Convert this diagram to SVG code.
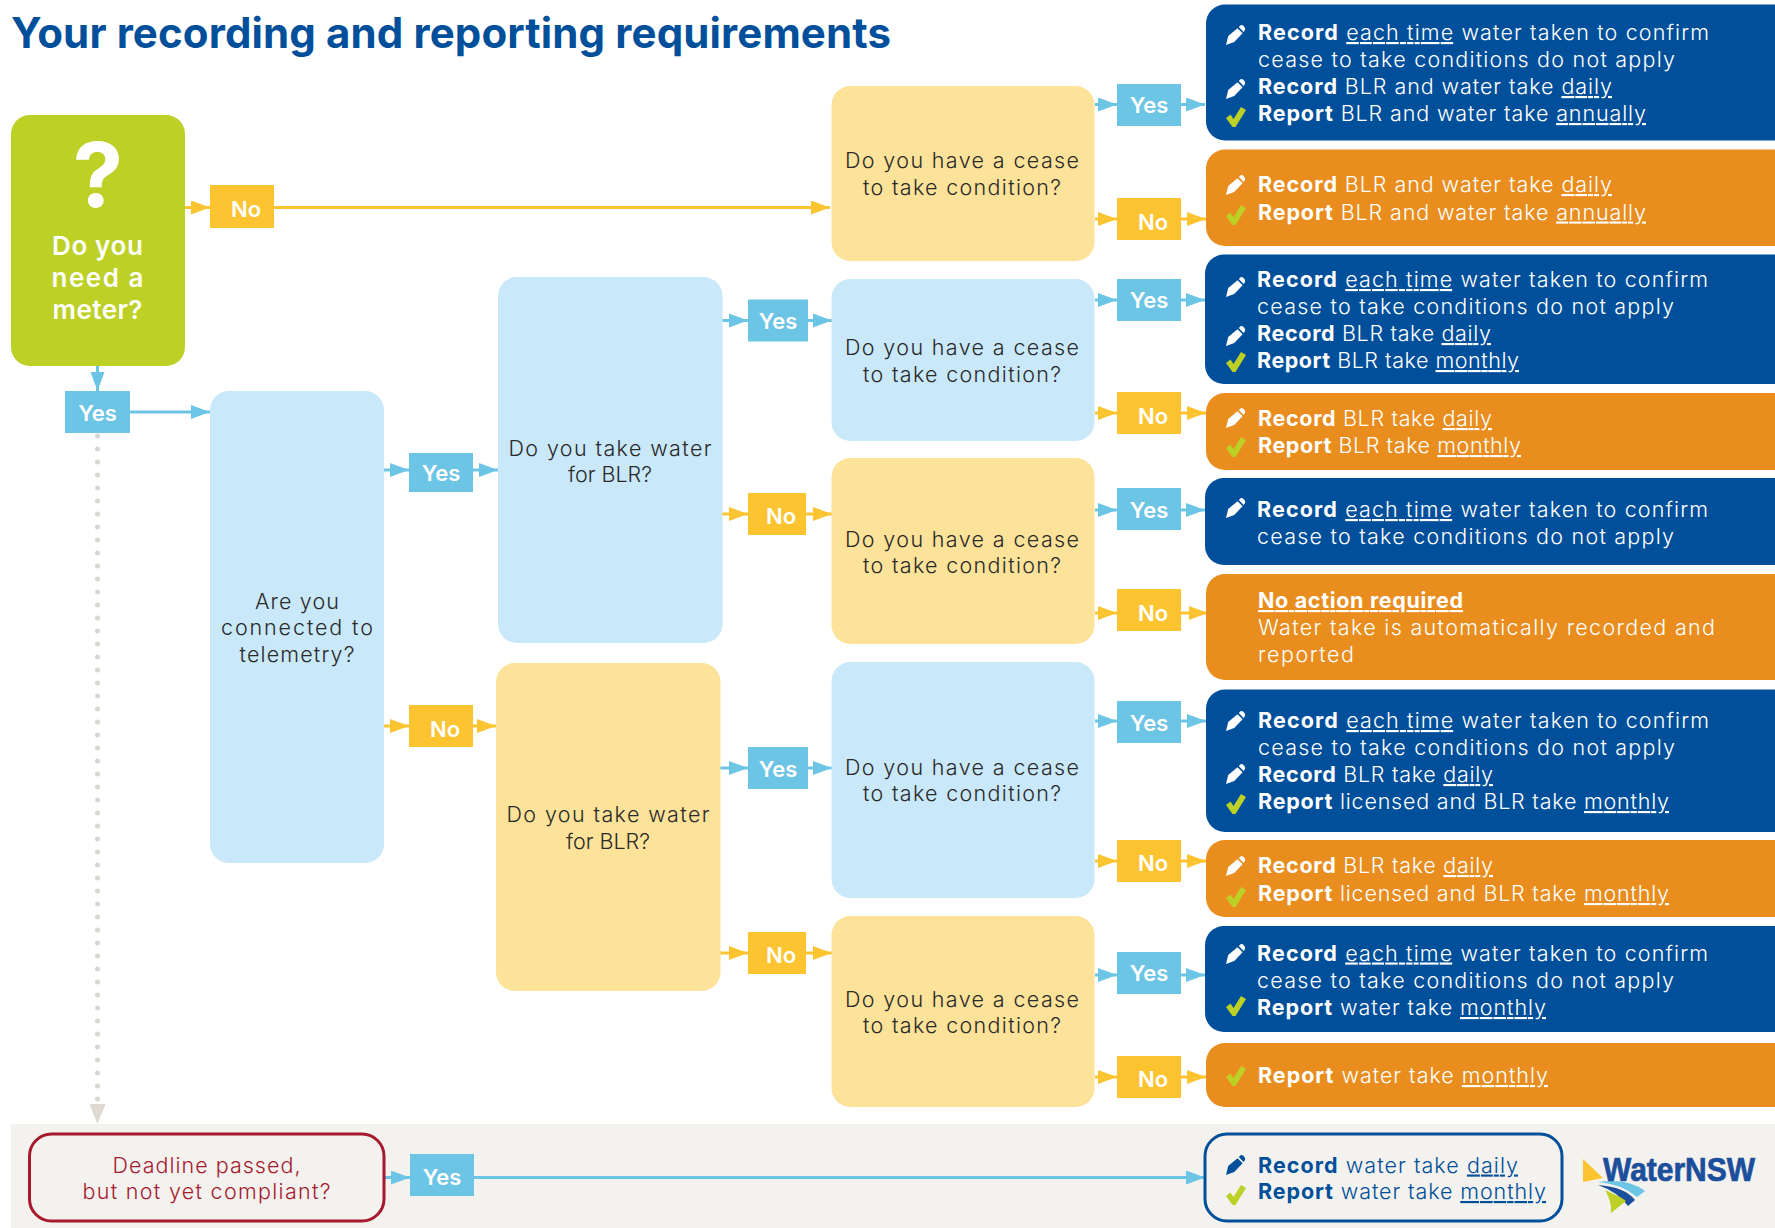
<svg xmlns="http://www.w3.org/2000/svg" width="1775" height="1228" viewBox="0 0 1775 1228">
<style>
text{font-family:"Inter","Lato","Liberation Sans",sans-serif}
.q{font-size:21.5px;fill:#2a2a2a;text-anchor:middle;font-weight:300}
.l{font-size:22px;fill:#fff;font-weight:600;text-anchor:middle}
.r{font-size:21.5px;fill:#fff;font-weight:300}
.b{font-weight:700}
.u{text-decoration:underline}
.by{fill:#6cc5e4}.yy{fill:#fbc430}
.conn{fill:none;stroke-width:3}
.cb{stroke:#6cc5e4}.cy{stroke:#fbc430}
.tick{fill:#bdd025}.pw{fill:#fff}.pb{fill:#004f9b}
</style>
<defs>
<marker id="ab" markerUnits="userSpaceOnUse" markerWidth="20" markerHeight="14" refX="19" refY="7" orient="auto"><path d="M0 0L19 7L0 14Z" fill="#6cc5e4"/></marker>
<marker id="ay" markerUnits="userSpaceOnUse" markerWidth="20" markerHeight="14" refX="19" refY="7" orient="auto"><path d="M0 0L19 7L0 14Z" fill="#fbc430"/></marker>
<marker id="ag" markerUnits="userSpaceOnUse" markerWidth="21" markerHeight="16" refX="20" refY="8" orient="auto"><path d="M0 0L20 8L0 16Z" fill="#dedad2"/></marker>
<symbol id="pen" viewBox="0 0 20 20" width="20" height="20" overflow="visible"><path d="M0 20L2.200 11L11.500 3.200L16.600 8.200L8.200 17ZM12.800 2L14.600 .3Q16.200-.4 18 1.500Q19.800 3.400 19 5L17.600 7Z"/></symbol>
<symbol id="tik" viewBox="0 0 20 20" width="20" height="20"><path d="M0 11L4.500 7.500L7.500 12L15 0L20 3L9.500 20L6.500 20Z"/></symbol>
</defs>
<rect width="1775" height="1228" fill="#fff"/>
<rect id="band" x="11" y="1124" width="1764" height="104" fill="#f4f2ee"/>
<text id="title" x="11" y="48" font-size="42" font-weight="700" fill="#004f9b" textLength="880" lengthAdjust="spacing">Your recording and reporting requirements</text>

<g id="connectors">
<path class="conn cy" marker-end="url(#ay)" d="M185 207.500H210"/>
<path class="conn cy" marker-end="url(#ay)" d="M274 207.500H830"/>
<path class="conn cb" marker-end="url(#ab)" d="M97.500 366V391"/>
<path class="conn cb" marker-end="url(#ab)" d="M130 412H210"/>
<path fill="none" stroke="#d9d6d0" stroke-width="5" stroke-linecap="round" stroke-dasharray="0 13" d="M97.500 436V1100"/>
<path fill="none" stroke="none" marker-end="url(#ag)" d="M97.500 1100V1124"/>
<path class="conn cb" marker-end="url(#ab)" d="M384 470H409"/>
<path class="conn cb" marker-end="url(#ab)" d="M473 470H498"/>
<path class="conn cy" marker-end="url(#ay)" d="M384 726H409"/>
<path class="conn cy" marker-end="url(#ay)" d="M473 726H496"/>
<path class="conn cb" marker-end="url(#ab)" d="M722 320.500H748"/>
<path class="conn cb" marker-end="url(#ab)" d="M808 320.500H832"/>
<path class="conn cy" marker-end="url(#ay)" d="M722 514H748"/>
<path class="conn cy" marker-end="url(#ay)" d="M806 514H832"/>
<path class="conn cb" marker-end="url(#ab)" d="M720 768H748"/>
<path class="conn cb" marker-end="url(#ab)" d="M808 768H832"/>
<path class="conn cy" marker-end="url(#ay)" d="M720 953H748"/>
<path class="conn cy" marker-end="url(#ay)" d="M806 953H832"/>
<path class="conn cb" marker-end="url(#ab)" d="M1095 104.500H1117"/>
<path class="conn cb" marker-end="url(#ab)" d="M1181 104.500H1205"/>
<path class="conn cy" marker-end="url(#ay)" d="M1095 219H1117"/>
<path class="conn cy" marker-end="url(#ay)" d="M1181 219H1206"/>
<path class="conn cb" marker-end="url(#ab)" d="M1095 300H1117"/>
<path class="conn cb" marker-end="url(#ab)" d="M1181 300H1205"/>
<path class="conn cy" marker-end="url(#ay)" d="M1095 413H1117"/>
<path class="conn cy" marker-end="url(#ay)" d="M1181 413H1206"/>
<path class="conn cb" marker-end="url(#ab)" d="M1095 510H1117"/>
<path class="conn cb" marker-end="url(#ab)" d="M1181 510H1205"/>
<path class="conn cy" marker-end="url(#ay)" d="M1095 613H1117"/>
<path class="conn cy" marker-end="url(#ay)" d="M1181 613H1208"/>
<path class="conn cb" marker-end="url(#ab)" d="M1095 721H1117"/>
<path class="conn cb" marker-end="url(#ab)" d="M1181 721H1206"/>
<path class="conn cy" marker-end="url(#ay)" d="M1095 861H1117"/>
<path class="conn cy" marker-end="url(#ay)" d="M1181 861H1206"/>
<path class="conn cb" marker-end="url(#ab)" d="M1095 975H1117"/>
<path class="conn cb" marker-end="url(#ab)" d="M1181 975H1205"/>
<path class="conn cy" marker-end="url(#ay)" d="M1095 1077H1117"/>
<path class="conn cy" marker-end="url(#ay)" d="M1181 1077H1206"/>
<path class="conn cb" marker-end="url(#ab)" d="M385 1177.500H410"/>
<path class="conn cb" marker-end="url(#ab)" d="M474 1177.500H1205"/>
</g>

<g id="n-meter"><rect x="11" y="115" width="174" height="251" rx="19" fill="#bdd025"/>
<text x="98" y="207" font-size="90" font-weight="700" fill="#fff" text-anchor="middle">?</text>
<text class="l" x="97.500" y="255" style="font-size:26px" textLength="91">Do you</text>
<text class="l" x="97.500" y="287" style="font-size:26px" textLength="92">need a</text>
<text class="l" x="97.500" y="319" style="font-size:26px" textLength="90">meter?</text></g>

<g id="n-telemetry"><rect x="210" y="391" width="174" height="472" rx="19" fill="#c9e8fa"/>
<text class="q" x="297" y="608.500" textLength="84">Are you</text><text class="q" x="297" y="635" textLength="152">connected to</text><text class="q" x="297" y="662" textLength="115">telemetry?</text></g>

<g id="n-blr1"><rect x="498" y="277" width="224.500" height="366" rx="19" fill="#c9e8fa"/>
<text class="q" x="610" y="455.500" textLength="203">Do you take water</text><text class="q" x="610" y="482" textLength="84">for BLR?</text></g>
<g id="n-blr2"><rect x="496" y="663" width="224.500" height="328" rx="19" fill="#fde299"/>
<text class="q" x="608" y="822" textLength="203">Do you take water</text><text class="q" x="608" y="849" textLength="84">for BLR?</text></g>

<g id="n-cease1"><rect x="831.500" y="86" width="263" height="175" rx="19" fill="#fde299"/>
<text class="q" x="962" y="168" textLength="234">Do you have a cease</text><text class="q" x="962" y="194.500" textLength="198">to take condition?</text></g>
<g id="n-cease2"><rect x="831.500" y="279" width="263" height="162" rx="19" fill="#c9e8fa"/>
<text class="q" x="962" y="355" textLength="234">Do you have a cease</text><text class="q" x="962" y="381.500" textLength="198">to take condition?</text></g>
<g id="n-cease3"><rect x="831.500" y="458" width="263" height="186" rx="19" fill="#fde299"/>
<text class="q" x="962" y="546.500" textLength="234">Do you have a cease</text><text class="q" x="962" y="573" textLength="198">to take condition?</text></g>
<g id="n-cease4"><rect x="831.500" y="662" width="263" height="236" rx="19" fill="#c9e8fa"/>
<text class="q" x="962" y="775" textLength="234">Do you have a cease</text><text class="q" x="962" y="801" textLength="198">to take condition?</text></g>
<g id="n-cease5"><rect x="831.500" y="916" width="263" height="191" rx="19" fill="#fde299"/>
<text class="q" x="962" y="1007" textLength="234">Do you have a cease</text><text class="q" x="962" y="1033" textLength="198">to take condition?</text></g>

<g id="labels">
<g id="l-no0"><rect class="yy" x="210" y="185" width="64" height="43"/><text class="l" x="246" y="217">No</text></g>
<g id="l-yes0"><rect class="by" x="65" y="391" width="65" height="42"/><text class="l" x="97.500" y="421">Yes</text></g>
<g id="l-yes1"><rect class="by" x="409" y="453" width="64" height="39"/><text class="l" x="441" y="481">Yes</text></g>
<g id="l-no1"><rect class="yy" x="409" y="705" width="64" height="42"/><text class="l" x="445" y="737">No</text></g>
<g id="l-yes2"><rect class="by" x="748" y="299.500" width="60" height="42"/><text class="l" x="778" y="329">Yes</text></g>
<g id="l-no2"><rect class="yy" x="748" y="493" width="58" height="42"/><text class="l" x="781" y="524">No</text></g>
<g id="l-yes3"><rect class="by" x="748" y="747" width="60" height="42"/><text class="l" x="778" y="777">Yes</text></g>
<g id="l-no3"><rect class="yy" x="748" y="932" width="58" height="42"/><text class="l" x="781" y="963">No</text></g>
<g id="l-y4"><rect class="by" x="1117" y="84" width="64" height="42"/><text class="l" x="1149" y="113">Yes</text></g>
<g id="l-n4"><rect class="yy" x="1117" y="198" width="64" height="42"/><text class="l" x="1153" y="230">No</text></g>
<g id="l-y5"><rect class="by" x="1117" y="279" width="64" height="42"/><text class="l" x="1149" y="308">Yes</text></g>
<g id="l-n5"><rect class="yy" x="1117" y="392" width="64" height="42"/><text class="l" x="1153" y="424">No</text></g>
<g id="l-y6"><rect class="by" x="1117" y="488" width="64" height="42"/><text class="l" x="1149" y="518">Yes</text></g>
<g id="l-n6"><rect class="yy" x="1117" y="589" width="64" height="42"/><text class="l" x="1153" y="621">No</text></g>
<g id="l-y7"><rect class="by" x="1117" y="701" width="64" height="42"/><text class="l" x="1149" y="731">Yes</text></g>
<g id="l-n7"><rect class="yy" x="1117" y="840" width="64" height="42"/><text class="l" x="1153" y="871">No</text></g>
<g id="l-y8"><rect class="by" x="1117" y="952" width="64" height="42"/><text class="l" x="1149" y="981">Yes</text></g>
<g id="l-n8"><rect class="yy" x="1117" y="1056" width="64" height="42"/><text class="l" x="1153" y="1087">No</text></g>
<g id="l-y9"><rect class="by" x="410" y="1154" width="64" height="42"/><text class="l" x="442" y="1185">Yes</text></g>
</g>

<g id="r1"><rect x="1206" y="4.500" width="590" height="136" rx="19" fill="#004f9b"/>
<use href="#pen" class="pw" x="1226" y="25"/><use href="#pen" class="pw" x="1226" y="79"/><use href="#tik" class="tick" x="1226" y="107"/>
<text class="r" x="1258" y="40" textLength="451"><tspan class="b">Record</tspan> <tspan class="u">each time</tspan> water taken to confirm</text>
<text class="r" x="1258" y="67" textLength="417">cease to take conditions do not apply</text>
<text class="r" x="1258" y="94" textLength="354"><tspan class="b">Record</tspan> BLR and water take <tspan class="u">daily</tspan></text>
<text class="r" x="1258" y="121" textLength="388"><tspan class="b">Report</tspan> BLR and water take <tspan class="u">annually</tspan></text></g>

<g id="r2"><rect x="1206" y="149.500" width="590" height="96.500" rx="19" fill="#e88d1e"/>
<use href="#pen" class="pw" x="1226" y="175"/><use href="#tik" class="tick" x="1226" y="205"/>
<text class="r" x="1258" y="192" textLength="354"><tspan class="b">Record</tspan> BLR and water take <tspan class="u">daily</tspan></text>
<text class="r" x="1258" y="219.500" textLength="388"><tspan class="b">Report</tspan> BLR and water take <tspan class="u">annually</tspan></text></g>

<g id="r3"><rect x="1205" y="254.500" width="590" height="129.500" rx="19" fill="#004f9b"/>
<use href="#pen" class="pw" x="1226" y="277"/><use href="#pen" class="pw" x="1226" y="326"/><use href="#tik" class="tick" x="1226" y="352"/>
<text class="r" x="1257" y="287" textLength="451"><tspan class="b">Record</tspan> <tspan class="u">each time</tspan> water taken to confirm</text>
<text class="r" x="1257" y="314" textLength="417">cease to take conditions do not apply</text>
<text class="r" x="1257" y="341" textLength="234"><tspan class="b">Record</tspan> BLR take <tspan class="u">daily</tspan></text>
<text class="r" x="1257" y="368" textLength="262"><tspan class="b">Report</tspan> BLR take <tspan class="u">monthly</tspan></text></g>

<g id="r4"><rect x="1206" y="393" width="590" height="77" rx="19" fill="#e88d1e"/>
<use href="#pen" class="pw" x="1226" y="408"/><use href="#tik" class="tick" x="1226" y="437"/>
<text class="r" x="1258" y="426" textLength="234"><tspan class="b">Record</tspan> BLR take <tspan class="u">daily</tspan></text>
<text class="r" x="1258" y="453" textLength="263"><tspan class="b">Report</tspan> BLR take <tspan class="u">monthly</tspan></text></g>

<g id="r5"><rect x="1205" y="478" width="590" height="87" rx="19" fill="#004f9b"/>
<use href="#pen" class="pw" x="1226" y="498"/>
<text class="r" x="1257" y="517" textLength="451"><tspan class="b">Record</tspan> <tspan class="u">each time</tspan> water taken to confirm</text>
<text class="r" x="1257" y="544" textLength="417">cease to take conditions do not apply</text></g>

<g id="r6"><rect x="1206" y="574" width="590" height="106" rx="19" fill="#e88d1e"/>
<text class="r b u" x="1258" y="608" textLength="205">No action required</text>
<text class="r" x="1258" y="635" textLength="457">Water take is automatically recorded and</text>
<text class="r" x="1258" y="662" textLength="96">reported</text></g>

<g id="r7"><rect x="1206" y="689.500" width="590" height="142.500" rx="19" fill="#004f9b"/>
<use href="#pen" class="pw" x="1226" y="711"/><use href="#pen" class="pw" x="1226" y="764"/><use href="#tik" class="tick" x="1226" y="794"/>
<text class="r" x="1258" y="728" textLength="451"><tspan class="b">Record</tspan> <tspan class="u">each time</tspan> water taken to confirm</text>
<text class="r" x="1258" y="755" textLength="417">cease to take conditions do not apply</text>
<text class="r" x="1258" y="782" textLength="235"><tspan class="b">Record</tspan> BLR take <tspan class="u">daily</tspan></text>
<text class="r" x="1258" y="809" textLength="411"><tspan class="b">Report</tspan> licensed and BLR take <tspan class="u">monthly</tspan></text></g>

<g id="r8"><rect x="1206" y="840" width="590" height="77" rx="19" fill="#e88d1e"/>
<use href="#pen" class="pw" x="1226" y="856"/><use href="#tik" class="tick" x="1226" y="887"/>
<text class="r" x="1258" y="873" textLength="235"><tspan class="b">Record</tspan> BLR take <tspan class="u">daily</tspan></text>
<text class="r" x="1258" y="901" textLength="411"><tspan class="b">Report</tspan> licensed and BLR take <tspan class="u">monthly</tspan></text></g>

<g id="r9"><rect x="1205" y="926" width="590" height="106" rx="19" fill="#004f9b"/>
<use href="#pen" class="pw" x="1226" y="944"/><use href="#tik" class="tick" x="1226" y="996"/>
<text class="r" x="1257" y="960.500" textLength="451"><tspan class="b">Record</tspan> <tspan class="u">each time</tspan> water taken to confirm</text>
<text class="r" x="1257" y="987.500" textLength="417">cease to take conditions do not apply</text>
<text class="r" x="1257" y="1015" textLength="289"><tspan class="b">Report</tspan> water take <tspan class="u">monthly</tspan></text></g>

<g id="r10"><rect x="1206" y="1043" width="590" height="64" rx="19" fill="#e88d1e"/>
<use href="#tik" class="tick" x="1226" y="1066"/>
<text class="r" x="1258" y="1083" textLength="290"><tspan class="b">Report</tspan> water take <tspan class="u">monthly</tspan></text></g>

<g id="n-deadline"><rect x="29.500" y="1134" width="354.500" height="87" rx="22" fill="none" stroke="#a6192e" stroke-width="3"/>
<text class="q" style="fill:#a6192e" x="206.500" y="1172.500" textLength="188">Deadline passed,</text>
<text class="q" style="fill:#a6192e" x="206.500" y="1199" textLength="248">but not yet compliant?</text></g>

<g id="r11"><rect x="1205" y="1134" width="357" height="87" rx="22" fill="none" stroke="#004f9b" stroke-width="3"/>
<use href="#pen" class="pb" x="1226" y="1155"/><use href="#tik" class="tick" x="1226" y="1185"/>
<text class="r" style="fill:#004f9b" x="1258" y="1172.500" textLength="260"><tspan class="b">Record</tspan> water take <tspan class="u">daily</tspan></text>
<text class="r" style="fill:#004f9b" x="1258" y="1199" textLength="288"><tspan class="b">Report</tspan> water take <tspan class="u">monthly</tspan></text></g>

<g id="logo">
<path d="M1583 1159L1603 1178L1583 1182Z" fill="#fbc430"/>
<path d="M1598 1182Q1628 1178 1645 1191L1637 1197Q1622 1184 1598 1182Z" fill="#6cc5e4"/>
<path d="M1598 1185Q1625 1187 1635 1200L1628 1206Q1618 1192 1598 1185Z" fill="#1b4f9c"/>
<path d="M1605 1190Q1623 1198 1626 1201L1611 1213Q1612 1202 1605 1190Z" fill="#bdd025"/>
<text x="1603" y="1181" font-size="33" font-weight="700" fill="#1b4f9c" stroke="#1b4f9c" stroke-width=".7" textLength="152" lengthAdjust="spacingAndGlyphs" style="font-family:'Liberation Sans',sans-serif">WaterNSW</text>
</g>
</svg>
